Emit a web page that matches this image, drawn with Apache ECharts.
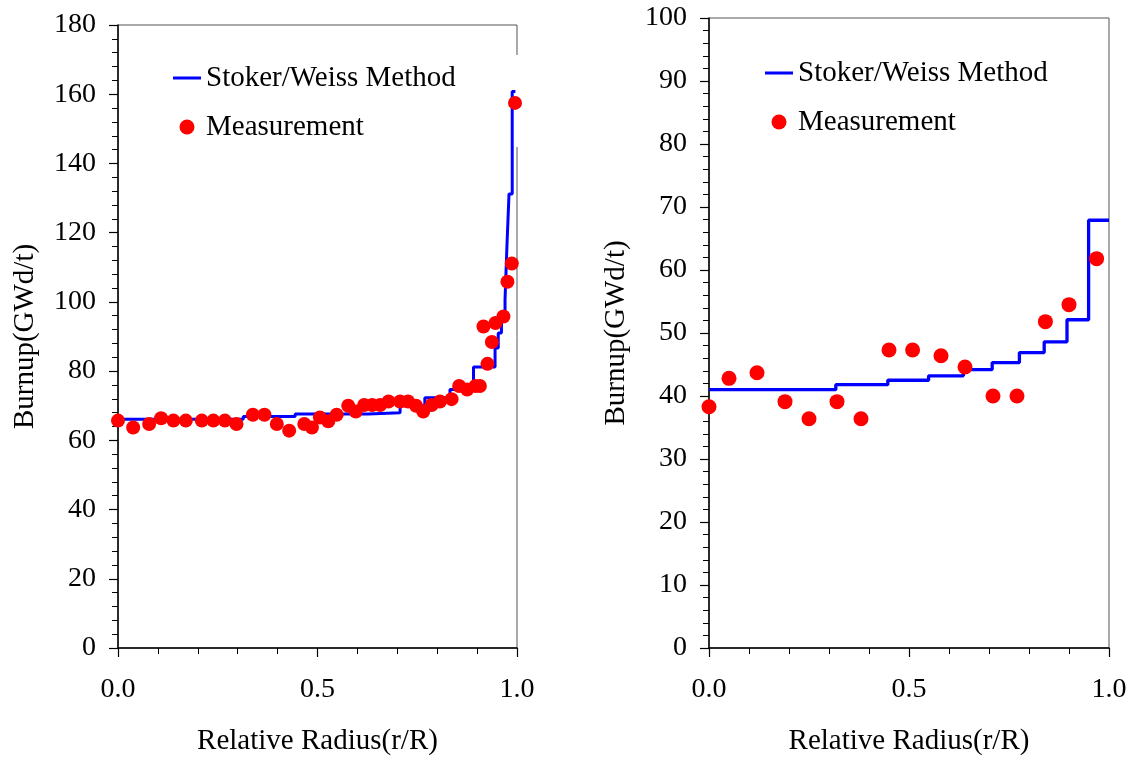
<!DOCTYPE html>
<html>
<head>
<meta charset="utf-8">
<script src="https://cdn.jsdelivr.net/npm/echarts@6/dist/echarts.min.js"></script>
<style>
  html, body { margin: 0; padding: 0; background: #fff; }
  #chart { width: 1134px; height: 761px; }
</style>
</head>
<body>
<div id="chart"></div>
<script>
// left panel: calculated step profile (start of each step + level) and measured points
const leftStepR = [0, 0.314, 0.444, 0.627, 0.707, 0.769, 0.832, 0.891, 0.945, 0.953, 0.961, 0.970, 0.975, 0.980, 0.988, 0.996];
const leftStepV = [66.1, 66.9, 67.6, 68.0, 70.0, 72.3, 74.7, 81.2, 86.7, 91.0, 97.0, 100.6, 116.8, 131.2, 160.8, 160.8];

const leftMeasR = [0.0, 0.038, 0.078, 0.108, 0.139, 0.170, 0.210, 0.239, 0.268, 0.297,
                   0.338, 0.367, 0.398, 0.429, 0.467, 0.486, 0.506, 0.527, 0.548, 0.577,
                   0.596, 0.617, 0.637, 0.657, 0.678, 0.707, 0.727, 0.747, 0.765, 0.786,
                   0.807, 0.836, 0.855, 0.875, 0.896, 0.907, 0.916, 0.926, 0.937, 0.946,
                   0.966, 0.976, 0.987, 0.995];
const leftMeasV = [65.7, 63.7, 64.7, 66.4, 65.7, 65.7, 65.7, 65.7, 65.7, 64.7,
                   67.4, 67.4, 64.7, 62.8, 64.7, 63.7, 66.6, 65.5, 67.4, 70.0,
                   68.3, 70.2, 70.2, 70.2, 71.2, 71.2, 71.2, 70.0, 68.3, 70.2,
                   71.2, 71.9, 75.7, 74.7, 75.7, 75.7, 92.9, 82.1, 88.4, 93.9,
                   95.8, 105.8, 111.1, 157.5];

// right panel
const rightStepR = [0, 0.317, 0.447, 0.549, 0.636, 0.708, 0.776, 0.838, 0.895, 0.949, 1.0];
const rightStepV = [41.0, 41.8, 42.5, 43.2, 44.2, 45.3, 46.9, 48.6, 52.1, 67.9, 67.9];

const rightMeasR = [0.0, 0.05, 0.12, 0.19, 0.25, 0.32, 0.38, 0.45, 0.509, 0.58, 0.64, 0.71, 0.77, 0.841, 0.90, 0.969];
const rightMeasV = [38.3, 42.8, 43.7, 39.1, 36.4, 39.1, 36.4, 47.3, 47.3, 46.4, 44.6, 40.0, 40.0, 51.8, 54.5, 61.8];

const xTickLabels = ["0.0", "0.5", "1.0"];

const FONT = "'Liberation Serif', 'Times New Roman', serif";
const pairs = (xs, ys) => xs.map((x, i) => [x, ys[i]]);

const chart = echarts.init(document.getElementById("chart"), null, { renderer: "canvas" });

const xAxisBase = (gridIndex) => ({
  gridIndex,
  type: "value",
  min: 0, max: 1, interval: 0.5,
  name: "Relative Radius(r/R)",
  nameLocation: "middle",
  nameGap: 79,
  nameTextStyle: { color: "#000", fontFamily: FONT, fontSize: 29 },
  axisLine: { show: true, lineStyle: { color: "#000", width: 1.5 } },
  axisTick: { show: true, inside: false, length: 9, lineStyle: { color: "#000", width: 1.2 } },
  minorTick: { show: true, splitNumber: 5, length: 6, lineStyle: { color: "#000", width: 1 } },
  splitLine: { show: false },
  axisLabel: {
    color: "#000", fontFamily: FONT, fontSize: 28, margin: 28,
    formatter: (v) => xTickLabels[Math.round(v * 2)],
  },
});

const yAxisBase = (gridIndex, max, interval) => ({
  gridIndex,
  type: "value",
  min: 0, max, interval,
  name: "Burnup(GWd/t)",
  nameLocation: "middle",
  nameRotate: 90,
  nameGap: 78,
  nameTextStyle: { color: "#000", fontFamily: FONT, fontSize: 29 },
  axisLine: { show: true, lineStyle: { color: "#000", width: 1.5 } },
  axisTick: { show: true, inside: false, length: 9, lineStyle: { color: "#000", width: 1.2 } },
  minorTick: { show: true, splitNumber: 5, length: 6, lineStyle: { color: "#000", width: 1 } },
  splitLine: { show: false },
  axisLabel: { color: "#000", fontFamily: FONT, fontSize: 28, margin: 22 },
});

// legend box is white and sits under the series, hiding part of the frame like the original
const legendBase = (left, top, padding) => ({
  left, top, padding,
  orient: "vertical",
  z: 1,
  backgroundColor: "#fff",
  itemWidth: 28,
  itemHeight: 15,
  itemGap: 19,
  symbolKeepAspect: true,
  textStyle: { color: "#000", fontFamily: FONT, fontSize: 29, lineHeight: 30 },
  data: [
    { name: "Stoker/Weiss Method", icon: "path://M0,0L28,0L28,3L0,3Z", itemStyle: { color: "#0000ff" } },
    { name: "Measurement", icon: "circle", itemStyle: { color: "#ff0000", opacity: 1 } },
  ],
});

chart.setOption({
  backgroundColor: "#fff",
  animation: false,
  grid: [
    { left: 118, right: 617, top: 25, bottom: 109, show: true, borderColor: "#555", borderWidth: 1, backgroundColor: "transparent" },
    { left: 709, right: 25, top: 18, bottom: 109, show: true, borderColor: "#555", borderWidth: 1, backgroundColor: "transparent" },
  ],
  xAxis: [xAxisBase(0), xAxisBase(1)],
  yAxis: [yAxisBase(0, 180, 20), yAxisBase(1, 100, 10)],
  legend: [
    legendBase(165, 55, [8, 70, 5, 8]),
    legendBase(757, 47, [11, 60, 13, 8]),
  ],
  series: [
    {
      name: "Stoker/Weiss Method",
      type: "line",
      step: "end",
      xAxisIndex: 0, yAxisIndex: 0,
      symbol: "none",
      z: 2,
      lineStyle: { color: "#0000ff", width: 3 },
      itemStyle: { color: "#0000ff" },
      data: pairs(leftStepR, leftStepV),
    },
    {
      name: "Measurement",
      type: "scatter",
      xAxisIndex: 0, yAxisIndex: 0,
      symbol: "circle",
      symbolSize: 14,
      clip: false,
      z: 3,
      itemStyle: { color: "#ff0000", opacity: 1 },
      data: pairs(leftMeasR, leftMeasV),
    },
    {
      name: "Stoker/Weiss Method",
      type: "line",
      step: "end",
      xAxisIndex: 1, yAxisIndex: 1,
      symbol: "none",
      z: 2,
      lineStyle: { color: "#0000ff", width: 3.3 },
      itemStyle: { color: "#0000ff" },
      data: pairs(rightStepR, rightStepV),
    },
    {
      name: "Measurement",
      type: "scatter",
      xAxisIndex: 1, yAxisIndex: 1,
      symbol: "circle",
      symbolSize: 15,
      clip: false,
      z: 3,
      itemStyle: { color: "#ff0000", opacity: 1 },
      data: pairs(rightMeasR, rightMeasV),
    },
  ],
});
</script>
</body>
</html>
